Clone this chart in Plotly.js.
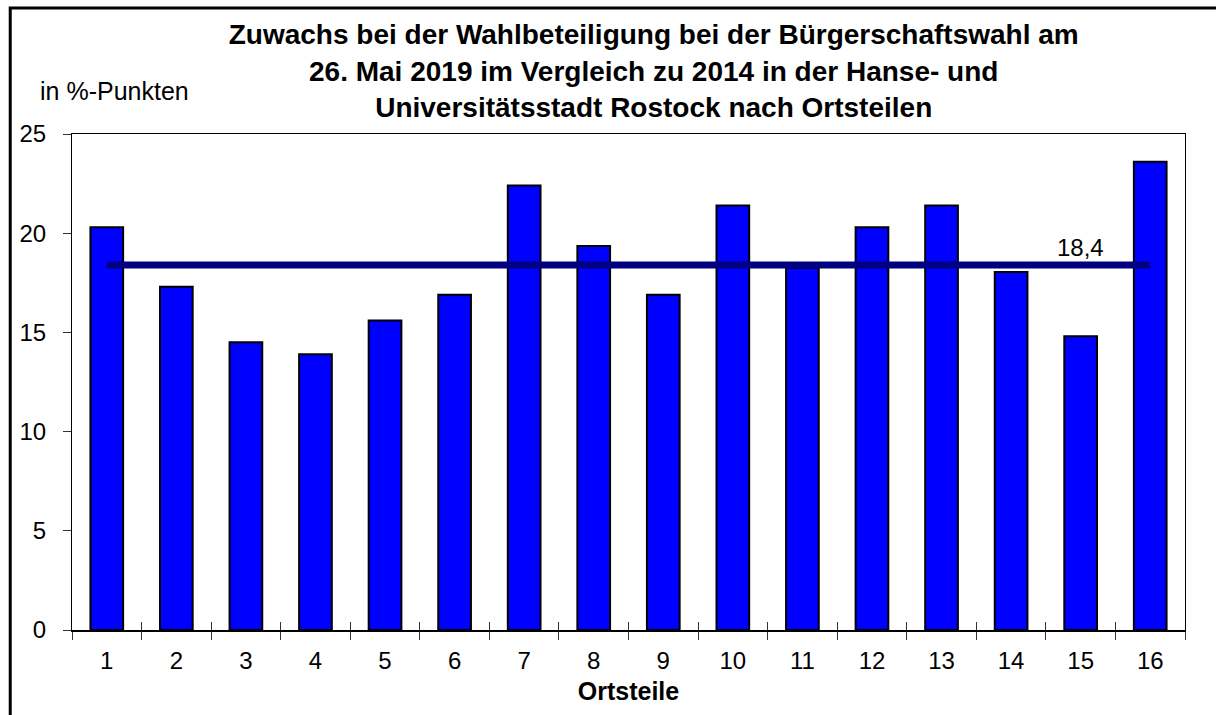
<!DOCTYPE html>
<html>
<head>
<meta charset="utf-8">
<script src="https://cdn.plot.ly/plotly-3.0.1.min.js"></script>
<style>
  html, body { margin: 0; padding: 0; background: #fff; }
  #chart { width: 1216px; height: 715px; }
</style>
</head>
<body>
<div id="chart"></div>
<script>
// ---- data ----
const categories = ['1','2','3','4','5','6','7','8','9','10','11','12','13','14','15','16'];
const zuwachs = [20.3, 17.3, 14.5, 13.9, 15.6, 16.9, 22.4, 19.35, 16.9, 21.4, 18.25, 20.3, 21.4, 18.05, 14.8, 23.6];
const average = 18.4;
const averageLabel = '18,4';
const averageLabelCategory = '15';
const yTicks = [0, 5, 10, 15, 20, 25];

const titleText = 'Zuwachs bei der Wahlbeteiligung bei der Bürgerschaftswahl am<br>26. Mai 2019 im Vergleich zu 2014 in der Hanse- und<br>Universitätsstadt Rostock nach Ortsteilen';
const yUnitText = 'in %-Punkten';
const xTitleText = 'Ortsteile';

const FONT = 'Liberation Sans, Arial, Helvetica, sans-serif';
const xRange = [-0.5, categories.length - 0.5];

const traces = [
  {
    type: 'bar',
    x: categories,
    y: zuwachs,
    width: 0.47,
    marker: { color: '#0000FF', line: { color: '#000000', width: 2 } },
    hoverinfo: 'x+y',
    showlegend: false
  },
  {
    type: 'scatter',
    mode: 'lines',
    x: categories,
    y: categories.map(() => average),
    line: { color: '#000080', width: 7 },
    hoverinfo: 'skip',
    showlegend: false
  },
  {
    // invisible helper so the overlay axis (inside tick marks) is drawn
    type: 'scatter',
    mode: 'markers',
    x: categories,
    y: zuwachs,
    xaxis: 'x2',
    marker: { opacity: 0 },
    hoverinfo: 'skip',
    showlegend: false
  }
];

const layout = {
  width: 1216,
  height: 715,
  paper_bgcolor: '#ffffff',
  plot_bgcolor: '#ffffff',
  margin: { l: 72, r: 31, t: 134, b: 85 },
  font: { family: FONT, color: '#000000', size: 24 },
  title: {
    text: titleText,
    font: { family: FONT, size: 28, weight: 'bold', color: '#000000' },
    x: 0.5376, xanchor: 'center', xref: 'container',
    y: 0.938, yanchor: 'top', yref: 'container'
  },
  xaxis: {
    type: 'category',
    range: xRange,
    autorange: false,
    tickson: 'boundaries',
    ticks: 'outside',
    ticklen: 8,
    tickcolor: '#333333',
    tickwidth: 1,
    showline: true,
    linecolor: '#000000',
    linewidth: 1.5,
    mirror: true,
    showgrid: false,
    zeroline: false,
    tickfont: { family: FONT, size: 24, color: '#000000' },
    ticklabelstandoff: 9,
    title: { text: xTitleText, font: { family: FONT, size: 25, weight: 'bold', color: '#000000' }, standoff: 9 },
    fixedrange: true
  },
  xaxis2: {
    type: 'category',
    overlaying: 'x',
    matches: 'x',
    anchor: 'y',
    side: 'bottom',
    range: xRange,
    autorange: false,
    tickson: 'boundaries',
    ticks: 'inside',
    ticklen: 8,
    tickcolor: '#333333',
    tickwidth: 1,
    showticklabels: false,
    showline: false,
    showgrid: false,
    zeroline: false
  },
  yaxis: {
    range: [0, 25],
    tickvals: yTicks,
    ticktext: yTicks.map(String),
    ticks: 'outside',
    ticklen: 8,
    tickcolor: '#333333',
    showline: true,
    linecolor: '#000000',
    linewidth: 1,
    mirror: true,
    showgrid: false,
    zeroline: false,
    tickfont: { family: FONT, size: 24, color: '#000000' },
    ticklabelstandoff: 12,
    fixedrange: true
  },
  bargap: 0.53,
  annotations: [
    {
      x: categories.indexOf(averageLabelCategory), y: average, xref: 'x', yref: 'y',
      text: averageLabel, showarrow: false,
      xanchor: 'center', yanchor: 'bottom', yshift: 2,
      font: { family: FONT, size: 24, color: '#000000' }
    },
    {
      x: -0.0305, y: 1.087, xref: 'paper', yref: 'paper',
      text: yUnitText, showarrow: false,
      xanchor: 'left', yanchor: 'middle',
      font: { family: FONT, size: 25, color: '#000000' }
    }
  ],
  shapes: [
    {
      type: 'rect', xref: 'paper', yref: 'paper',
      x0: -0.0555, x1: 1.06, y0: -0.25, y1: 1.254,
      line: { color: '#000000', width: 3 },
      fillcolor: 'rgba(0,0,0,0)',
      layer: 'below'
    }
  ]
};

Plotly.newPlot('chart', traces, layout, { displayModeBar: false, staticPlot: true });
</script>
</body>
</html>
